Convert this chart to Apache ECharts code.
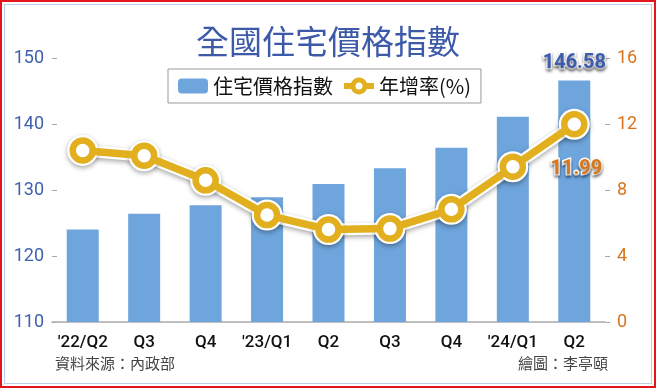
<!DOCTYPE html>
<html><head><meta charset="utf-8">
<script src="https://cdn.jsdelivr.net/npm/echarts@6/dist/echarts.min.js"></script>
<style>
html,body{margin:0;padding:0;background:#fff;}
#wrap{position:relative;width:656px;height:388px;box-sizing:border-box;border:2px solid #e3161d;background:#fff;overflow:hidden;}
#inner{position:absolute;left:2px;top:2px;right:2px;bottom:2px;border:1px solid #b9cfea;}
#chart{position:absolute;left:-2px;top:-2px;width:656px;height:388px;}
</style></head>
<body>
<div id="wrap"><div id="inner"></div><div id="chart"></div></div>
<script>
const categories = ["'22/Q2","Q3","Q4","'23/Q1","Q2","Q3","Q4","'24/Q1","Q2"];
const priceIndex = [124.0,126.4,127.7,128.9,130.9,133.3,136.4,141.1,146.58];
const yoyRate = [10.4,10.08,8.59,6.48,5.6,5.66,6.83,9.41,11.99];
const leftTicks = {min:110,max:150,interval:10};
const rightTicks = {min:0,max:16,interval:4};
const titleText = '全國住宅價格指數';
const barName = '住宅價格指數';
const lineName = '年增率(%)';
const sourceText = '資料來源：內政部';
const creditText = '繪圖：李亭頤';

const gold = '#e2af1f';
const blue = '#6ea5dd';
const numFont = 'Roboto, "Liberation Sans", "Noto Sans CJK TC", sans-serif';
const cjkFont = '"Noto Sans CJK TC", sans-serif';
const last = priceIndex.length - 1;

const chart = echarts.init(document.getElementById('chart'), null, {renderer:'canvas'});
chart.setOption({
  animation:false,
  backgroundColor:'transparent',
  title:{text:titleText,left:'center',top:20,textStyle:{fontFamily:cjkFont,fontSize:33,fontWeight:'normal',color:'#3d5aa8'}},
  legend:{
    data:[barName,{name:lineName,itemStyle:{borderWidth:5,color:'#fff',borderColor:gold},lineStyle:{width:6,color:gold}}],
    left:168, top:69,
    padding:[7,10,7,10],
    itemGap:8, itemWidth:30, itemHeight:15,
    borderColor:'#9a9a9a', borderWidth:1, backgroundColor:'#fff',
    textStyle:{fontFamily:cjkFont,fontSize:20,color:'#111'}
  },
  grid:{left:52,right:51,top:58,bottom:66},
  xAxis:{
    type:'category',data:categories,
    axisLine:{lineStyle:{color:'#aaaaaa',width:1.5}},
    axisTick:{alignWithLabel:true,length:5,lineStyle:{color:'#aaaaaa'}},
    axisLabel:{interval:0,fontFamily:numFont,fontSize:17,fontWeight:500,color:'#111',margin:12}
  },
  yAxis:[
    {type:'value',min:leftTicks.min,max:leftTicks.max,interval:leftTicks.interval,
     splitLine:{show:false},axisLine:{show:false},
     axisTick:{show:true,inside:true,length:5,lineStyle:{color:'#aaaaaa'}},
     axisLabel:{fontFamily:numFont,fontSize:18,color:'#3f61ae',margin:8}},
    {type:'value',min:rightTicks.min,max:rightTicks.max,interval:rightTicks.interval,
     splitLine:{show:false},axisLine:{show:false},
     axisTick:{show:true,length:5,lineStyle:{color:'#aaaaaa'}},
     axisLabel:{fontFamily:numFont,fontSize:18,color:'#d8741e',margin:12}}
  ],
  series:[
    {name:barName,type:'bar',data:priceIndex.map((v,i)=>i===last?{value:v,label:{show:true}}:v),
     barWidth:32,itemStyle:{color:blue},
     label:{show:false,position:'top',distance:8,fontFamily:numFont,fontSize:20,fontWeight:'bold',color:'#3d5cb0',
       textBorderColor:'#fff',textBorderWidth:3,textShadowColor:'rgba(0,0,0,0.45)',textShadowBlur:3,textShadowOffsetY:2}},
    {name:'halo',type:'line',yAxisIndex:1,data:yoyRate,symbol:'circle',symbolSize:31,
     lineStyle:{color:'#fff',width:12,shadowColor:'rgba(0,0,0,0.35)',shadowBlur:5,shadowOffsetY:2},
     itemStyle:{color:'#fff',shadowColor:'rgba(0,0,0,0.35)',shadowBlur:5,shadowOffsetY:2},z:3,silent:true},
    {name:lineName,type:'line',yAxisIndex:1,data:yoyRate.map((v,i)=>i===last?{value:v,label:{show:true}}:v),
     symbol:'circle',symbolSize:20,
     lineStyle:{color:gold,width:7.5},
     itemStyle:{color:'#fff',borderColor:gold,borderWidth:6.5},z:4,
     label:{show:false,position:'bottom',distance:22,offset:[2,0],fontFamily:numFont,fontSize:20,fontWeight:'bold',color:'#d9781a',
       textBorderColor:'#fff',textBorderWidth:3,textShadowColor:'rgba(0,0,0,0.45)',textShadowBlur:3,textShadowOffsetY:2}}
  ],
  graphic:[
    {type:'text',left:55,top:356,style:{text:sourceText,font:'15px '+cjkFont,fill:'#444'}},
    {type:'text',right:48,top:356,style:{text:creditText,font:'15px '+cjkFont,fill:'#444'}}
  ]
});
</script>
</body></html>
